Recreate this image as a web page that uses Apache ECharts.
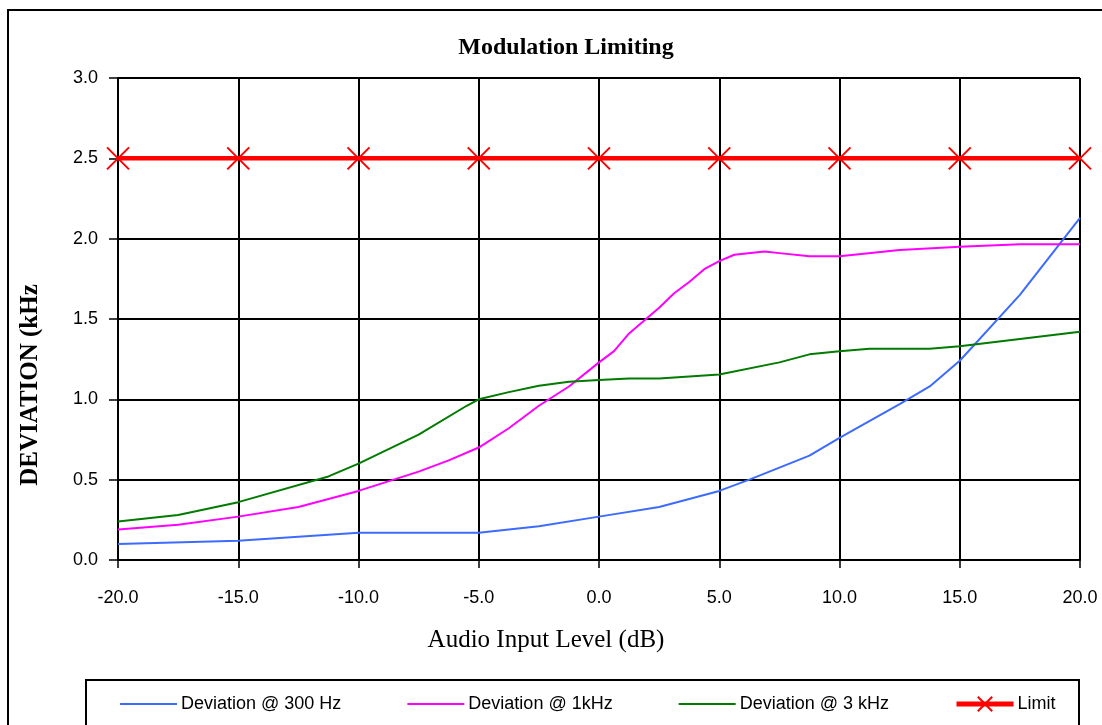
<!DOCTYPE html>
<html>
<head>
<meta charset="utf-8">
<title>Modulation Limiting</title>
<script src="https://cdn.jsdelivr.net/npm/echarts@6/dist/echarts.min.js"></script>
<style>
  html, body { margin: 0; padding: 0; background: #fff; }
  #chart { width: 1102px; height: 725px; }
</style>
</head>
<body>
<div id="chart"></div>
<script>
// Audio input level (dB) and measured deviation (kHz) for each test tone
const levels300 = [-20, -15, -10, -5, -2.5, 0, 2.5, 5, 6.25, 8.75, 10, 12.5, 13.75, 15, 17.5, 20];
const dev300 = [0.10, 0.12, 0.17, 0.17, 0.21, 0.27, 0.33, 0.43, 0.50, 0.65, 0.76, 0.97, 1.08, 1.24, 1.65, 2.13];

const levels1k = [-20, -17.5, -15, -12.5, -10, -7.5, -6.25, -5, -3.75, -2.5, -1.25, 0, 0.625, 1.25, 2.5, 3.125, 3.75, 4.375, 5, 5.625, 6.875, 7.5, 8.75, 10, 12.5, 15, 17.5, 20];
const dev1k = [0.19, 0.22, 0.27, 0.33, 0.43, 0.55, 0.62, 0.70, 0.82, 0.96, 1.08, 1.23, 1.30, 1.41, 1.57, 1.66, 1.73, 1.81, 1.86, 1.90, 1.92, 1.91, 1.89, 1.89, 1.93, 1.95, 1.965, 1.965];

const levels3k = [-20, -17.5, -15, -11.25, -10, -7.5, -5.5, -5, -3.75, -2.5, -1.25, 0, 1.25, 2.5, 5, 7.5, 8.75, 10, 11.25, 13.75, 15, 20];
const dev3k = [0.24, 0.28, 0.36, 0.52, 0.60, 0.78, 0.96, 1.00, 1.045, 1.085, 1.11, 1.12, 1.13, 1.13, 1.155, 1.23, 1.28, 1.30, 1.315, 1.315, 1.33, 1.42];

const levelsLimit = [-20, -15, -10, -5, 0, 5, 10, 15, 20];
const devLimit = [2.5, 2.5, 2.5, 2.5, 2.5, 2.5, 2.5, 2.5, 2.5];

const seriesNames = ['Deviation @ 300 Hz', 'Deviation @ 1kHz', 'Deviation @ 3 kHz', 'Limit'];
const chartTitle = 'Modulation Limiting';
const xTitle = 'Audio Input Level (dB)';
const yTitle = 'DEVIATION (kHz';

const colors = ['#3d6bff', '#ff00ff', '#007a00', '#ff0000'];
const crossSymbol = 'path://M0,0L10,10M10,0L0,10';

const pairs = (xs, ys) => xs.map((x, i) => [x, ys[i]]);

const chart = echarts.init(document.getElementById('chart'), null, { renderer: 'canvas' });

const axisFont = { fontFamily: 'Liberation Sans, Arial, sans-serif', fontSize: 18, color: '#000' };

// plain line samples in the legend for the measured curves, thick line + cross for the limit
const legendData = seriesNames.map((name, i) => i < 3
  ? { name, itemStyle: { opacity: 0 }, lineStyle: { color: colors[i], width: 2 } }
  : { name, lineStyle: { color: colors[i], width: 5 },
      itemStyle: { color: colors[i], borderColor: colors[i], borderWidth: 2 } });

chart.setOption({
  animation: false,
  backgroundColor: '#fff',
  grid: { left: 118, right: 22, top: 78, bottom: 165, containLabel: false },
  xAxis: {
    type: 'value',
    min: -20, max: 20, interval: 5,
    axisLine: { show: true, onZero: false, lineStyle: { color: '#000', width: 2 } },
    axisTick: { show: true, inside: false, length: 8, lineStyle: { color: '#000', width: 1.5 } },
    axisLabel: Object.assign({ margin: 29, formatter: v => v.toFixed(1) }, axisFont),
    splitLine: { show: true, lineStyle: { color: '#000', width: 2 } }
  },
  yAxis: {
    type: 'value',
    min: 0, max: 3, interval: 0.5,
    axisLine: { show: true, onZero: false, lineStyle: { color: '#000', width: 2 } },
    axisTick: { show: true, inside: false, length: 9, lineStyle: { color: '#000', width: 1.5 } },
    axisLabel: Object.assign({ margin: 20, formatter: v => v.toFixed(1) }, axisFont),
    splitLine: { show: true, lineStyle: { color: '#000', width: 2 } }
  },
  legend: {
    left: 114, top: 690,
    itemWidth: 57, itemHeight: 18, itemGap: 65,
    textStyle: { fontFamily: 'Liberation Sans, Arial, sans-serif', fontSize: 18, color: '#000', padding: [0, 0, 0, -1] },
    data: legendData
  },
  series: [
    {
      name: seriesNames[0], type: 'line', symbol: 'none', smooth: false,
      lineStyle: { color: colors[0], width: 2 }, itemStyle: { color: colors[0] },
      data: pairs(levels300, dev300), z: 3
    },
    {
      name: seriesNames[1], type: 'line', symbol: 'none', smooth: false,
      lineStyle: { color: colors[1], width: 2 }, itemStyle: { color: colors[1] },
      data: pairs(levels1k, dev1k), z: 3
    },
    {
      name: seriesNames[2], type: 'line', symbol: 'none', smooth: false,
      lineStyle: { color: colors[2], width: 2 }, itemStyle: { color: colors[2] },
      data: pairs(levels3k, dev3k), z: 3
    },
    {
      name: seriesNames[3], type: 'line', smooth: false,
      symbol: crossSymbol, symbolSize: 22,
      lineStyle: { color: colors[3], width: 4.5 },
      itemStyle: { color: colors[3], borderColor: colors[3], borderWidth: 2 },
      data: pairs(levelsLimit, devLimit), z: 4
    }
  ],
  graphic: [
    // outer chart frame
    { type: 'rect', shape: { x: 8, y: 10, width: 1200, height: 1000 },
      style: { fill: 'none', stroke: '#000', lineWidth: 2 }, silent: true },
    // legend frame
    { type: 'rect', shape: { x: 86, y: 680, width: 993, height: 100 },
      style: { fill: 'none', stroke: '#000', lineWidth: 2 }, silent: true },
    { type: 'text', x: 566, y: 48,
      style: { text: chartTitle, font: 'bold 24px "Liberation Serif", "Times New Roman", serif',
               fill: '#000', textAlign: 'center', textVerticalAlign: 'middle' } },
    { type: 'text', x: 546, y: 640,
      style: { text: xTitle, font: '25px "Liberation Serif", "Times New Roman", serif',
               fill: '#000', textAlign: 'center', textVerticalAlign: 'middle' } },
    { type: 'text', x: 31, y: 385, rotation: Math.PI / 2,
      style: { text: yTitle, font: 'bold 25px "Liberation Serif", "Times New Roman", serif',
               fill: '#000', textAlign: 'center', textVerticalAlign: 'middle' } }
  ]
});
</script>
</body>
</html>
